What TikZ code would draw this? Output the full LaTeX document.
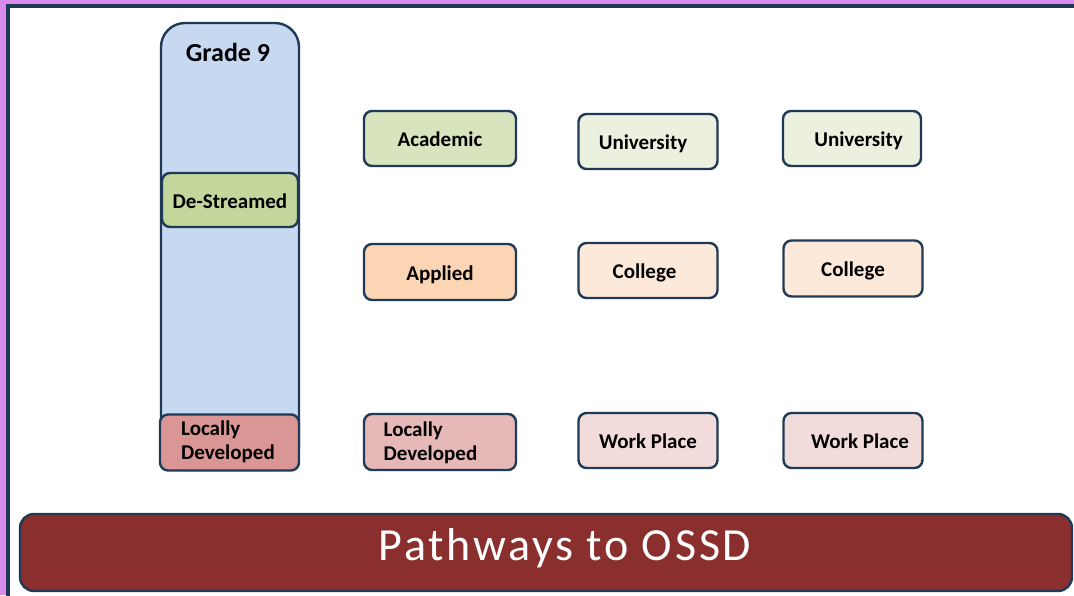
\documentclass[tikz,border=0pt]{standalone}
\usepackage{fontspec}
\setmainfont{Carlito}
\definecolor{navy}{HTML}{1F3A56}
\definecolor{purplebg}{HTML}{DA8CEC}
\definecolor{colblue}{HTML}{C6D9F1}
\definecolor{dsgreen}{HTML}{C3D69B}
\definecolor{acadgreen}{HTML}{D7E4BD}
\definecolor{unigreen}{HTML}{EBF1DE}
\definecolor{applorange}{HTML}{FCD5B5}
\definecolor{collorange}{HTML}{FDE9D9}
\definecolor{ldred}{HTML}{D99694}
\definecolor{ldpink}{HTML}{E6B9B8}
\definecolor{wppink}{HTML}{F2DCDB}
\definecolor{banner}{HTML}{8A2F2E}
\tikzset{
  pbox/.style={draw=navy, line width=2.4pt, rounded corners=8pt, inner sep=0pt,
    font=\bfseries\fontsize{21}{24}\selectfont, text=black, text height=20.6pt, text depth=4.2pt},
  ldtext/.style={font=\bfseries\fontsize{21}{23.7}\selectfont, align=left, anchor=base west, inner sep=0pt, text=black},
}
\begin{document}
\begin{tikzpicture}[x=1pt,y=-1pt]
\useasboundingbox (0,0) rectangle (1074,595);
\clip (0,0) rectangle (1074,595);
\fill[purplebg] (0,0) rectangle (1074,595);
\draw[navy, line width=4.5pt, fill=white] (8.2,6) rectangle (1110,620);

% Grade 9 column
\node[pbox, fill=colblue, rounded corners=24pt, minimum width=138pt, minimum height=447pt] (g9) at (230,246.5) {};
\node[font=\bfseries\fontsize{26}{30}\selectfont, inner sep=0pt, anchor=base] (g9t) at (228,61.5) {Grade 9};
\node[pbox, fill=dsgreen, minimum width=136pt, minimum height=54pt] (ds) at (230,200) {De-Streamed};
\node[pbox, fill=ldred, minimum width=139pt, minimum height=56pt] (ld1) at (229.5,442.5) {};
\node[ldtext] (ld1t) at (181,459.3) {Locally\\Developed};

% Second column
\node[pbox, fill=acadgreen, minimum width=152pt, minimum height=55pt] (acad) at (440,138.5) {Academic};
\node[pbox, fill=applorange, minimum width=152pt, minimum height=56pt] (appl) at (440,272) {Applied};
\node[pbox, fill=ldpink, minimum width=152pt, minimum height=56pt] (ld2) at (440,442) {};
\node[ldtext] (ld2t) at (383.5,460) {Locally\\Developed};

% Third column
\node[pbox, fill=unigreen, minimum width=139pt, minimum height=55pt] (uni1) at (648,141.5) {\hspace*{-10pt}University};
\node[pbox, fill=collorange, minimum width=139pt, minimum height=55pt] (col1) at (648,270.5) {\hspace*{-7pt}College};
\node[pbox, fill=wppink, minimum width=139pt, minimum height=55pt] (wp1) at (648,440.5) {Work Place};

% Fourth column
\node[pbox, fill=unigreen, minimum width=138pt, minimum height=55pt] (uni2) at (852,138.5) {\hspace*{13pt}University};
\node[pbox, fill=collorange, minimum width=139pt, minimum height=56pt] (col2) at (853,268.5) {College};
\node[pbox, fill=wppink, minimum width=139pt, minimum height=55pt] (wp2) at (853,440.5) {\hspace*{14pt}Work Place};

% Banner
\node[draw=navy, line width=2.4pt, fill=banner, rounded corners=14pt, minimum width=1052pt, minimum height=77pt, inner sep=0pt] (ban) at (546,552.5) {};
\node[text=white, font=\fontsize{46}{52}\selectfont\addfontfeatures{LetterSpace=6}, inner sep=0pt, anchor=base] (bant) at (565,560.5) {Pathways to OSSD};
\end{tikzpicture}
\end{document}
